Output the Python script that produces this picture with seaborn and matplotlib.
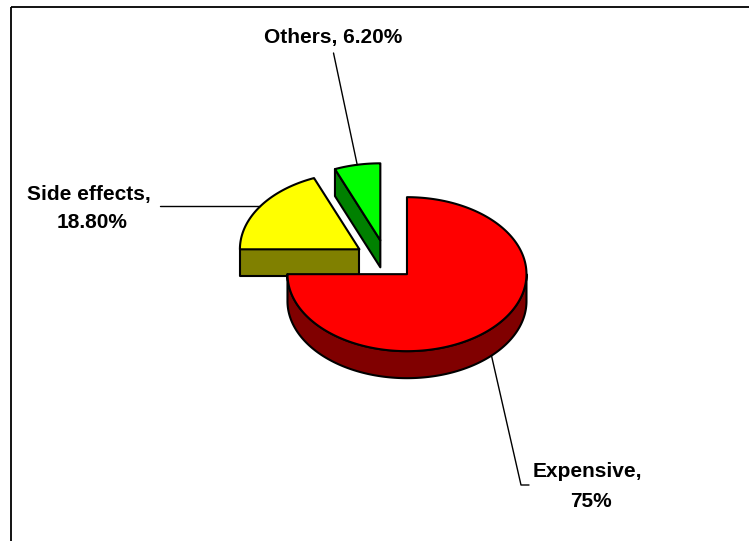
import numpy as np
import matplotlib
matplotlib.use("Agg")
import matplotlib.pyplot as plt
import seaborn as sns
from matplotlib.patches import Polygon, Rectangle

# ---- data ----
categories = ["Expensive", "Side effects", "Others"]
values = [75.0, 18.8, 6.2]
label_line1 = ["Expensive,", "Side effects,", "Others, 6.20%"]
label_line2 = ["75%", "18.80%", ""]
top_colors = ["#FF0000", "#FFFF00", "#00FF00"]
side_colors = ["#800000", "#808000", "#008000"]
explode = [0.24, 0.275, 0.275]

sns.set_style("white")
plt.rcParams['font.family'] = ['Liberation Sans', 'DejaVu Sans']
plt.rcParams['text.color'] = 'black'

fig = plt.figure(figsize=(7.49, 5.41), dpi=100)
ax = fig.add_axes([0, 0, 1, 1])
ax.set_xlim(0, 749)
ax.set_ylim(541, 0)
ax.axis('off')

# layout of the 3-D pie (pixel space)
CX, CY, RX, RY, D = 386.7, 261.1, 119.5, 77.0, 27.0
LW = 1.5


def rim(cx, cy, th, dz=0.0):
    t = np.radians(th)
    return cx + RX * np.cos(t), cy - RY * np.sin(t) + dz


total = sum(values)
start = 90.0
slices = []
cum = 0.0
for i, v in enumerate(values):
    b = start - 360 * cum / total
    cum += v
    a = start - 360 * cum / total
    mid = (a + b) / 2
    ox = CX + explode[i] * RX * np.cos(np.radians(mid))
    oy = CY - explode[i] * RY * np.sin(np.radians(mid))
    slices.append(dict(i=i, a=a, b=b, mid=mid, ox=ox, oy=oy))

order = sorted(slices, key=lambda s: s['oy'])
z = 2
for s in order:
    i, a, b, ox, oy = s['i'], s['a'], s['b'], s['ox'], s['oy']
    # radial walls
    walls = []
    if np.cos(np.radians(a)) > 1e-6:
        walls.append(a)
    if np.cos(np.radians(b)) < -1e-6:
        walls.append(b)
    for th in walls:
        x1, y1 = rim(ox, oy, th)
        poly = [(ox, oy), (x1, y1), (x1, y1 + D), (ox, oy + D)]
        ax.add_patch(Polygon(poly, closed=True, facecolor=side_colors[i],
                             edgecolor='black', lw=LW, zorder=z, joinstyle='round'))
        z += 1
    # outer (front) wall
    for k in range(-2, 3):
        lo = max(a, -180 + 360 * k)
        hi = min(b, 0 + 360 * k)
        if hi - lo > 0.01:
            th = np.linspace(lo, hi, 200)
            xs, ys = rim(ox, oy, th)
            pts = list(zip(xs, ys)) + list(zip(xs[::-1], ys[::-1] + D))
            ax.add_patch(Polygon(pts, closed=True, facecolor=side_colors[i],
                                 edgecolor='black', lw=LW, zorder=z, joinstyle='round'))
            z += 1
    # top face
    th = np.linspace(a, b, 300)
    xs, ys = rim(ox, oy, th)
    pts = [(ox, oy)] + list(zip(xs, ys))
    ax.add_patch(Polygon(pts, closed=True, facecolor=top_colors[i],
                         edgecolor='black', lw=LW, zorder=z, joinstyle='round'))
    z += 1

# ---- labels and leader lines ----
fs = 15
S = {s['i']: s for s in slices}
tk = dict(ha='center', va='baseline', fontsize=fs, fontweight='bold', color='black')

# Expensive
s = S[0]
ax_, ay_ = rim(s['ox'], s['oy'], s['mid'], D)
ax.plot([ax_, 521, 529], [ay_, 485, 485], color='black', lw=1.0, zorder=20)
ax.text(587, 477, label_line1[0], **tk)
ax.text(591, 507, label_line2[0], **tk)

# Side effects
s = S[1]
sx, sy = rim(s['ox'], s['oy'], s['mid'])
ax.plot([160, sx], [sy, sy], color='black', lw=1.0, zorder=20)
ax.text(89, 200, label_line1[1], **tk)
ax.text(92, 228, label_line2[1], **tk)

# Others
s = S[2]
gx, gy = rim(s['ox'], s['oy'], s['mid'])
ax.plot([333.5, gx], [53, gy], color='black', lw=1.0, zorder=20)
ax.text(333.5, 43.3, label_line1[2], **tk)

# chart-area border
ax.add_patch(Rectangle((10.8, 6.9), 800, 600, fill=False, edgecolor='black', lw=1.3, zorder=30))

fig.savefig("out.png", dpi=100)
